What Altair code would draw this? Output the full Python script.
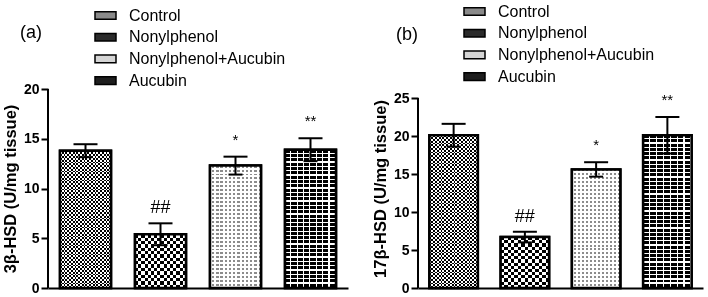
import altair as alt
import pandas as pd

groups = ["Control", "Nonylphenol", "Nonylphenol+Aucubin", "Aucubin"]
hsd3_mean = [13.8, 5.4, 12.3, 13.9]
hsd3_sem = [0.65, 1.1, 0.9, 1.15]
hsd3_sig = ["", "##", "*", "**"]
hsd17_mean = [20.1, 6.7, 15.6, 20.1]
hsd17_sem = [1.5, 0.7, 0.95, 2.4]
hsd17_sig = ["", "##", "*", "**"]
ticks_a = [0, 5, 10, 15, 20]
ticks_b = [0, 5, 10, 15, 20, 25]
swatch_colors = ["#8a8a8a", "#2b2b2b", "#d5d5d5", "#1e1e1e"]

FONT = "Liberation Sans"
CLEAR = "rgba(0,0,0,0)"

# texture per group: (row period px, row colour 1, row colour 2, row fraction,
#                     column period px, col colour 1, col colour 2, col fraction, blend)
textures = {
    "Control": (3.6, "white", "black", 0.5, 3.6, "white", "black", 0.5, "difference"),
    "Nonylphenol": (6.6, "white", "black", 0.5, 6.6, "white", "black", 0.5, "difference"),
    "Nonylphenol+Aucubin": (4.0, "#8c8c8c", "white", 0.5, 4.2, "white", CLEAR, 0.45, None),
    "Aucubin": (4.3, "black", "white", 0.7, 6.5, CLEAR, "white", 0.82, None),
}


def stripe_gradient(n, c1, c2, frac, along):
    n = max(int(n), 1)
    stops = []
    for k in range(n):
        a = round(k / n, 5)
        b = round((k + frac) / n, 5)
        c = round((k + 1) / n, 5)
        stops += [
            alt.GradientStop(offset=a, color=c1),
            alt.GradientStop(offset=b, color=c1),
            alt.GradientStop(offset=b, color=c2),
            alt.GradientStop(offset=c, color=c2),
        ]
    if along == "y":
        return alt.LinearGradient(gradient="linear", stops=stops, x1=0, y1=0, x2=0, y2=1)
    return alt.LinearGradient(gradient="linear", stops=stops, x1=0, y1=0, x2=1, y2=0)


def panel(means, sems, sigs, top, ticks, ytitle, label, width, height,
          legend_x, legend_y, label_x, label_y):
    df = pd.DataFrame({"group": groups, "mean": means, "sem": sems, "sig": sigs})
    df["lo"] = df["mean"] - df["sem"]
    df["hi"] = df["mean"] + df["sem"]
    ppu = height / top
    bar_w = width / 4 * 0.68

    x = alt.X("group:N", sort=groups,
              scale=alt.Scale(paddingInner=0.32, paddingOuter=0.16),
              axis=alt.Axis(labels=False, ticks=False, title=None,
                            domainColor="black", domainWidth=2))
    yscale = alt.Scale(domain=[0, top], nice=False, zero=True)
    yaxis = alt.Axis(values=ticks, title=ytitle, domain=False,
                     tickSize=7, tickWidth=2, tickColor="black",
                     labelFontSize=14, labelFontWeight="bold",
                     labelColor="black", labelPadding=2, labelFont=FONT,
                     titleFontSize=16.5, titleFontWeight="bold",
                     titleColor="black", titlePadding=5, titleFont=FONT,
                     grid=False)

    def Y(field):
        return alt.Y(field, scale=yscale, axis=yaxis, title=ytitle)

    base = alt.Chart(df)
    layers = [base.mark_bar(stroke="black", strokeWidth=2.5).encode(
        x=x, y=Y("mean:Q"),
        color=alt.Color("group:N", sort=groups,
                        scale=alt.Scale(domain=groups, range=swatch_colors),
                        legend=alt.Legend(title=None, orient="none",
                                          legendX=legend_x, legendY=legend_y,
                                          symbolType="M-1,-0.36H1V0.36H-1Z",
                                          symbolSize=441,
                                          symbolStrokeColor="black",
                                          symbolStrokeWidth=1.5,
                                          symbolOpacity=1,
                                          labelFontSize=16, labelFont=FONT,
                                          labelColor="black", labelOffset=12,
                                          rowPadding=1.7, padding=0,
                                          symbolOffset=0)))]

    for i, g in enumerate(groups):
        rp, rc1, rc2, rf, cp, cc1, cc2, cf, blend = textures[g]
        sel = base.transform_filter(alt.datum.group == g)
        n_rows = round(means[i] * ppu / rp)
        n_cols = round(bar_w / cp)
        layers.append(sel.mark_bar(
            fill=stripe_gradient(n_rows, rc1, rc2, rf, "y")).encode(x=x, y=Y("mean:Q")))
        col_kwargs = dict(fill=stripe_gradient(n_cols, cc1, cc2, cf, "x"))
        if blend:
            col_kwargs["blend"] = blend
        layers.append(sel.mark_bar(**col_kwargs).encode(x=x, y=Y("mean:Q")))

    layers.append(base.mark_bar(fillOpacity=0, stroke="black", strokeWidth=2.5).encode(
        x=x, y=Y("mean:Q")))

    layers.append(base.mark_rule(color="black", strokeWidth=2).encode(
        x=x, y=Y("lo:Q"), y2="hi:Q"))
    layers.append(base.mark_tick(color="black", thickness=2, size=24, opacity=1).encode(
        x=x, y=Y("hi:Q")))
    layers.append(base.mark_tick(color="black", thickness=2, size=14, opacity=1).encode(
        x=x, y=Y("lo:Q")))

    layers.append(base.transform_filter(alt.datum.sig == "##").mark_text(
        fontSize=18, font=FONT, color="black", baseline="alphabetic", dy=-10).encode(
        x=x, y=Y("hi:Q"), text="sig:N"))
    layers.append(base.transform_filter("indexof(datum.sig, '*') >= 0").mark_text(
        fontSize=15, font=FONT, color="black", baseline="alphabetic", dy=-12).encode(
        x=x, y=Y("hi:Q"), text="sig:N"))

    layers.append(alt.Chart(pd.DataFrame({"y0": [0], "y1": [ticks[-1]]})).mark_rule(
        color="black", strokeWidth=2).encode(
        x=alt.value(0), y=Y("y0:Q"), y2="y1:Q"))

    layers.append(alt.Chart(pd.DataFrame({"t": [label]})).mark_text(
        fontSize=18, font=FONT, color="black", align="center", baseline="middle").encode(
        text="t:N", x=alt.value(label_x), y=alt.value(label_y)))

    return alt.layer(*layers).properties(width=width, height=height)


pa = panel(hsd3_mean, hsd3_sem, hsd3_sig, 20, ticks_a, "3β-HSD (U/mg tissue)", "(a)",
           300, 199, 46, -85, -17, -56)
pb = panel(hsd17_mean, hsd17_sem, hsd17_sig, 25 * 199 / 190, ticks_b,
           "17β-HSD (U/mg tissue)", "(b)", 285, 199, 45, -89, -11, -54)

chart = alt.hconcat(pa, pb, spacing=24).resolve_scale(
    color="independent", y="independent", x="independent").resolve_legend(
    color="independent").properties(
    padding={"left": 2, "top": 0, "right": 2, "bottom": 2},
    background="white").configure_view(stroke=None)

chart.save("out.html", embed_options={"renderer": "svg", "actions": False})
